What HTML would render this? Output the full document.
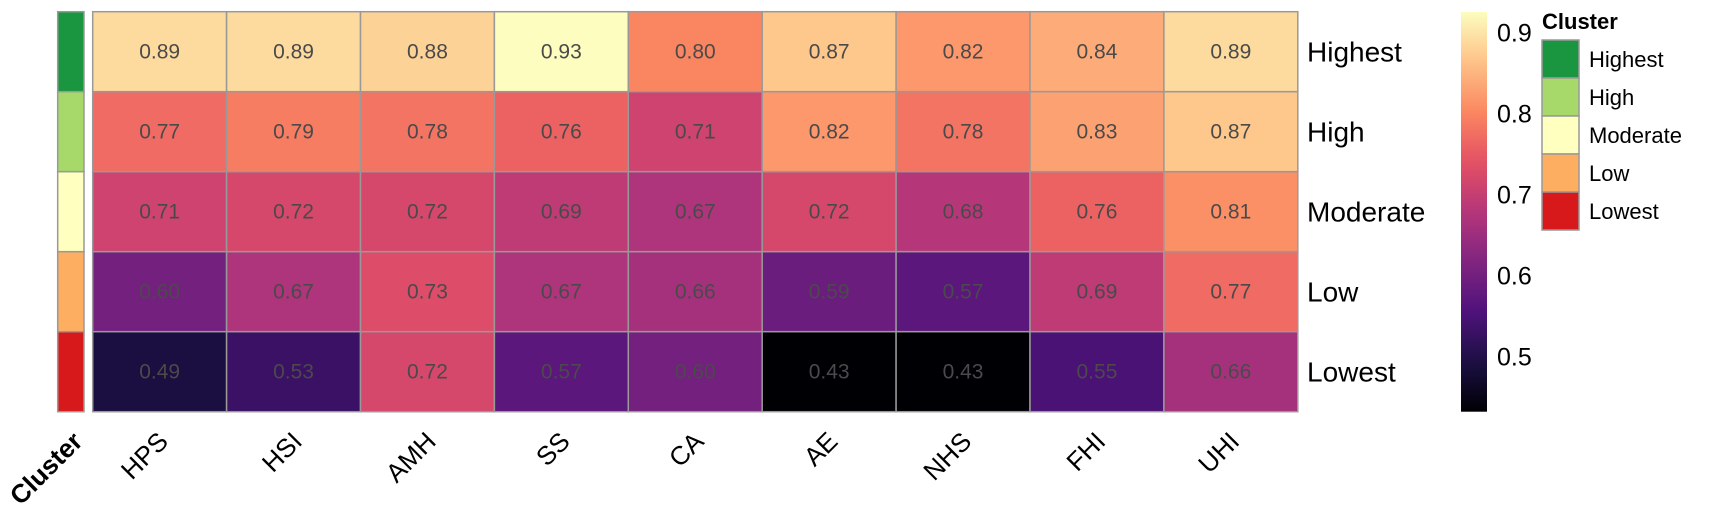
<!DOCTYPE html>
<html><head><meta charset="utf-8"><style>
body{margin:0;background:#fff;}
svg{display:block;font-family:"Liberation Sans",Arial,sans-serif;}
</style></head><body>
<svg id="chart" width="1711" height="522"></svg>
<script>
const columns=["HPS","HSI","AMH","SS","CA","AE","NHS","FHI","UHI"];
const rows=["Highest","High","Moderate","Low","Lowest"];
const rowHighest=[0.89,0.89,0.88,0.93,0.80,0.87,0.82,0.84,0.89];
const rowHigh=[0.77,0.79,0.78,0.76,0.71,0.82,0.78,0.83,0.87];
const rowModerate=[0.71,0.72,0.72,0.69,0.67,0.72,0.68,0.76,0.81];
const rowLow=[0.60,0.67,0.73,0.67,0.66,0.59,0.57,0.69,0.77];
const rowLowest=[0.49,0.53,0.72,0.57,0.60,0.43,0.43,0.55,0.66];
const values=[rowHighest,rowHigh,rowModerate,rowLow,rowLowest];
const clusterColors=["#1a9641","#a6d96a","#ffffc0","#fdae61","#d7191c"];
const colorTicks=[0.5,0.6,0.7,0.8,0.9];
const vmin=0.432,vmax=0.925;

const NS="http://www.w3.org/2000/svg";
const svg=document.getElementById('chart');
function mk(t,a,p){const e=document.createElementNS(NS,t);for(const k in a)e.setAttribute(k,a[k]);(p||svg).appendChild(e);return e;}
const magma=[[0,0,0,4],[0.1,28,16,68],[0.2,79,18,123],[0.3,129,37,129],[0.4,181,54,122],[0.5,229,80,100],[0.6,251,135,97],[0.7,254,194,135],[0.8,252,253,191],[1,252,253,191]];
function magmaCol(t){t=Math.max(0,Math.min(1,t));
 t=t*0.8;
 for(let i=0;i<magma.length-1;i++){const a=magma[i],b=magma[i+1];if(t<=b[0]){const f=(t-a[0])/(b[0]-a[0]);return `rgb(${Math.round(a[1]+f*(b[1]-a[1]))},${Math.round(a[2]+f*(b[2]-a[2]))},${Math.round(a[3]+f*(b[3]-a[3]))})`;}}
 return 'rgb(252,253,191)';}
function colorOf(v){return magmaCol((v-vmin)/(vmax-vmin));}
const X0=92.7,Y0=11.7,CW=133.9,CH=80;
function xPos(i){return X0+i*CW;}
function yPos(j){return Y0+j*CH;}
rows.forEach((r,j)=>{
 const e=mk('rect',{x:57.7,y:yPos(j),width:26.3,height:CH,fill:clusterColors[j],stroke:'#999','stroke-width':1.5});
 
 
});
values.forEach((rowv,j)=>{rowv.forEach((v,i)=>{
 const c=mk('rect',{x:xPos(i),y:yPos(j),width:CW,height:CH,fill:colorOf(v),stroke:'#999','stroke-width':1.5});
 
 
 const t=mk('text',{x:xPos(i)+CW/2,y:yPos(j)+CH/2+7,'text-anchor':'middle','font-size':21,fill:'#4a4a4a'});
 t.textContent=v.toFixed(2);
 
 
});});
rows.forEach((r,j)=>{
 const t=mk('text',{x:1307,y:yPos(j)+CH/2+10,'font-size':28,fill:'#000'});
 t.textContent=r;
 
 
});
columns.forEach((c,i)=>{
 const cx=xPos(i)+CW/2+10,cy=443;
 const t=mk('text',{x:cx,y:cy,'text-anchor':'end','font-size':26,fill:'#000',transform:`rotate(-45 ${cx} ${cy})`});
 t.textContent=c;
 
 
});
{const t=mk('text',{x:84,y:443,'text-anchor':'end','font-size':26,'font-weight':'bold',fill:'#000',transform:'rotate(-45 84 443)'});
 t.textContent='Cluster';
 
 }
const CBX=1461,CBT=12,CBB=411.7,CBW=26;
function cbY(v){return CBB-(v-vmin)/(vmax-vmin)*(CBB-CBT);}
const defs=mk('defs',{});
const g=mk('linearGradient',{id:'cbg',x1:0,y1:1,x2:0,y2:0},defs);
for(let k=0;k<=20;k++){mk('stop',{offset:k/20,'stop-color':magmaCol(k/20)},g);}
{const r=mk('rect',{x:CBX,y:CBT,width:CBW,height:CBB-CBT,fill:'url(#cbg)'});
 
 }
colorTicks.forEach(v=>{
 const t=mk('text',{x:1497,y:cbY(v)+9,'font-size':25,fill:'#000'});
 t.textContent=v.toFixed(1);
 
 
});
{const t=mk('text',{x:1542,y:29,'font-size':22,'font-weight':'bold',fill:'#000'});
 t.textContent='Cluster';
 
 }
rows.forEach((r,j)=>{
 const y=40+j*38;
 const k=mk('rect',{x:1542,y:y,width:37,height:38,fill:clusterColors[j],stroke:'#999','stroke-width':1.5});
 
 
 const t=mk('text',{x:1589,y:y+27,'font-size':22,fill:'#000'});
 t.textContent=r;
 
 
});
</script>
</body></html>
